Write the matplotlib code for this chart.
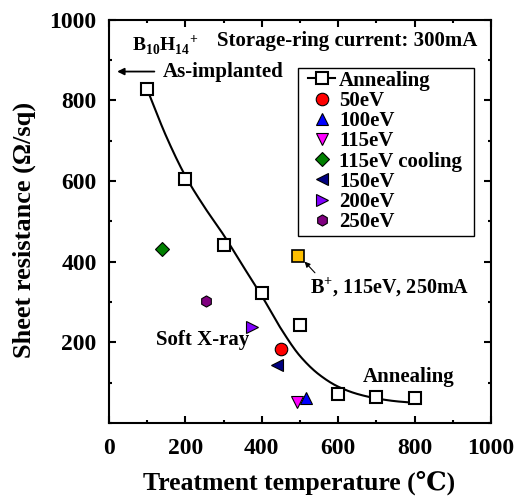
import numpy as np
import matplotlib
matplotlib.use("Agg")
import matplotlib.pyplot as plt
from matplotlib.ticker import MultipleLocator
from matplotlib.patches import Rectangle

plt.rcParams['font.family'] = ['Liberation Serif', 'DejaVu Serif']
plt.rcParams['font.weight'] = 'bold'
plt.rcParams['mathtext.fontset'] = 'custom'
plt.rcParams['mathtext.rm'] = 'Liberation Serif:bold'
plt.rcParams['mathtext.bf'] = 'Liberation Serif:bold'

# Annealing data
anneal_x = [100, 200, 300, 400, 500, 600, 700, 800]
anneal_y = [827, 605, 440, 322, 242, 72, 65, 62]

# Fitted curve
curve_x = [100, 150, 200, 250, 300, 350, 400, 450, 500, 550, 600, 650, 700, 750, 800]
curve_y = [827, 710, 612, 535, 466, 390, 315, 234, 166, 120, 90, 72, 61, 54, 50]

# Soft X-ray points
labels = ['50eV', '100eV', '115eV', '115eV cooling', '150eV', '200eV', '250eV']
sx_x = [450, 515, 493, 140, 440, 375, 255]
sx_y = [184, 63, 53, 432, 144, 237, 303]
markers = ['o', '^', 'v', 'D', '<', '>', 'h']
colors = ['#ff0000', '#0000ff', '#ff00ff', '#008000', '#000080', '#8000ff', '#800080']
sizes = [9, 8, 8, 7.5, 8, 8, 8]

# B+ reference point
bplus_x = [495]
bplus_y = [415]


def pchip(x, y, xs):
    x = np.asarray(x, float)
    y = np.asarray(y, float)
    h = np.diff(x)
    d = np.diff(y) / h
    n = len(x)
    m = np.zeros(n)
    for k in range(1, n - 1):
        if d[k - 1] * d[k] > 0:
            w1 = 2 * h[k] + h[k - 1]
            w2 = h[k] + 2 * h[k - 1]
            m[k] = (w1 + w2) / (w1 / d[k - 1] + w2 / d[k])
    m[0] = d[0]
    m[-1] = d[-1]
    idx = np.clip(np.searchsorted(x, xs) - 1, 0, n - 2)
    t = (xs - x[idx]) / h[idx]
    h00 = 2 * t**3 - 3 * t**2 + 1
    h10 = t**3 - 2 * t**2 + t
    h01 = -2 * t**3 + 3 * t**2
    h11 = t**3 - t**2
    return (h00 * y[idx] + h10 * h[idx] * m[idx] + h01 * y[idx + 1]
            + h11 * h[idx] * m[idx + 1])


fig = plt.figure(figsize=(5.23, 4.97), dpi=100)
ax = fig.add_axes([109/523, 1-423/497, (491-109)/523, (423-19.5)/497])

xs = np.linspace(curve_x[0], curve_x[-1], 400)
ax.plot(xs, pchip(curve_x, curve_y, xs), color='black', lw=1.5, zorder=2)

ax.plot(anneal_x, anneal_y, ls='none', marker='s', ms=8.5, mfc='white',
        mec='black', mew=1.5, zorder=3)
# legend proxy
ax.plot([], [], color='black', lw=1.5, marker='s', ms=8.5, mfc='white',
        mec='black', mew=1.5, label='Annealing')

for x, y, m, c, s, l in zip(sx_x, sx_y, markers, colors, sizes, labels):
    ax.plot([x], [y], ls='none', marker=m, ms=s, mfc=c, mec='black',
            mew=0.8, label=l, zorder=4)

ax.plot(bplus_x, bplus_y, ls='none', marker='s', ms=8.5, mfc='#ffc000',
        mec='black', mew=1.2, zorder=4)

ax.set_xlim(0, 1000)
ax.set_ylim(0, 1000)
ax.xaxis.set_major_locator(MultipleLocator(200))
ax.xaxis.set_minor_locator(MultipleLocator(100))
ax.yaxis.set_major_locator(MultipleLocator(200))
ax.yaxis.set_minor_locator(MultipleLocator(100))
ax.tick_params(which='both', direction='in', top=True, right=True,
               labelsize=17)
ax.tick_params(axis='x', which='both', pad=11)
ax.tick_params(axis='y', which='both', pad=9)
ax.tick_params(which='major', length=5, width=1.5)
ax.tick_params(which='minor', length=2.5, width=1.5)
ax.set_yticks([200, 400, 600, 800, 1000])
ax.set_xticks([0, 200, 400, 600, 800, 1000])
for sp in ax.spines.values():
    sp.set_linewidth(1.5)

ax.set_xlabel('Treatment temperature (\u2103)', fontsize=18.5, fontweight='bold')
ax.xaxis.set_label_coords(0.497, -0.118)
ax.set_ylabel('Sheet resistance (\u03a9/sq)', fontsize=19, fontweight='bold')
ax.yaxis.set_label_coords(-0.19, 0.478)

# legend frame
ax.add_patch(Rectangle((0.4948, 0.4634), 0.9555 - 0.4948, 0.8798 - 0.4634,
                       transform=ax.transAxes, facecolor='white',
                       edgecolor='black', lw=1.0, zorder=5))
leg = ax.legend(loc='upper left', bbox_to_anchor=(0.521, 0.873), fontsize=15,
                frameon=False, handlelength=1.3, handletextpad=0.2,
                borderpad=0, labelspacing=0.01, borderaxespad=0)
leg.set_zorder(6)

ax.text(60, 937, r'B$_{10}$H$_{14}$$^{+}$', fontsize=14, fontweight='bold',
        va='center', ha='left')
ax.text(284, 947, 'Storage-ring current: 300mA', fontsize=15, fontweight='bold',
        va='center', ha='left')
ax.text(141, 870, 'As-implanted', fontsize=15, fontweight='bold',
        va='center', ha='left')
ax.annotate('', xy=(14, 871), xytext=(126, 871),
            arrowprops=dict(arrowstyle='-|>', color='black', lw=1.3,
                            mutation_scale=10))
ax.annotate(r'B$^{+}$, 115eV, 250mA', xy=(512, 400), xytext=(525, 337),
            fontsize=14.5, fontweight='bold', va='center', ha='left',
            arrowprops=dict(arrowstyle='-|>', color='black', lw=0.8,
                            mutation_scale=8, shrinkA=0, shrinkB=0,
                            relpos=(0.05, 1.0)))
ax.text(122, 206, 'Soft X-ray', fontsize=15, fontweight='bold',
        va='center', ha='left')
ax.text(664, 114, 'Annealing', fontsize=15, fontweight='bold',
        va='center', ha='left')

fig.savefig('out.png', dpi=100)
